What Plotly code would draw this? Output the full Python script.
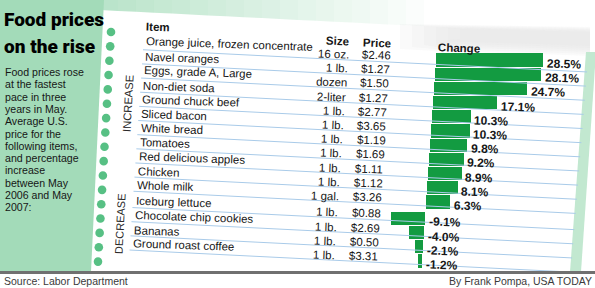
import plotly.graph_objects as go

# ---------------- data ----------------
items = ["Orange juice, frozen concentrate", "Navel oranges", "Eggs, grade A, Large",
         "Non-diet soda", "Ground chuck beef", "Sliced bacon", "White bread", "Tomatoes",
         "Red delicious apples", "Chicken", "Whole milk", "Iceburg lettuce",
         "Chocolate chip cookies", "Bananas", "Ground roast coffee"]
sizes = ["16 oz.", "1 lb.", "dozen", "2-liter", "1 lb.", "1 lb.", "1 lb.", "1 lb.",
         "1 lb.", "1 lb.", "1 gal.", "1 lb.", "1 lb.", "1 lb.", "1 lb."]
prices = ["$2.46", "$1.27", "$1.50", "$1.27", "$2.77", "$3.65", "$1.19", "$1.69",
          "$1.11", "$1.12", "$3.26", "$0.88", "$2.69", "$0.50", "$3.31"]
changes = [28.5, 28.1, 24.7, 17.1, 10.3, 10.3, 9.8, 9.2, 8.9, 8.1, 6.3,
           -9.1, -4.0, -2.1, -1.2]
body_lines = ["Food prices rose", "at the fastest", "pace in three", "years in May.",
              "Average U.S.", "price for the", "following items,", "and percentage",
              "increase", "between May", "2006 and May", "2007:"]

# ---------------- layout constants ----------------
W, H = 595, 288
ROW0, ROWH = 60.0, 14.2      # pixel centre of first row, row pitch
GAP = 0.15                   # extra gap before decrease group (rows)
PXU = 3.78                   # pixels per percentage point
ZERO0 = 436.0                # pixel of zero at first row
XMIN, XMAX = -15, 40
SHX = 0.95                   # leftward drift per row (tilted page)
SLOPE = 0.05                 # rule-line slope
GREEN = "#139b41"
PANEL = "#a3dbb9"
TXT = "#161616"
FONT = "Liberation Sans, Arial, sans-serif"
TITLE_FONT = "Roboto, Liberation Sans, sans-serif"

pos = [i + (GAP if c < 0 else 0) for i, c in enumerate(changes)]
bases = [-SHX * p / PXU for p in pos]


def xp(px):
    return px / W


def yp(py):
    return 1 - py / H


def rowpx(p):
    return ROW0 + ROWH * p


fig = go.Figure()
fig.add_trace(go.Bar(
    x=changes, y=pos, base=bases, orientation="h", width=0.93,
    marker=dict(color=GREEN, line=dict(width=0)), hoverinfo="skip", showlegend=False))

ann = []


def text(x, y, s, size=12, bold=False, anchor="left", color=TXT, angle=0,
         family=FONT, xref="paper", yref="paper", xshift=0, yshift=0, weight=None):
    f = dict(size=size, color=color, family=family)
    if weight is not None:
        f["weight"] = weight
    ann.append(dict(x=x, y=y, xref=xref, yref=yref, text=f"<b>{s}</b>" if bold else s,
                    showarrow=False, xanchor=anchor, yanchor="middle", textangle=angle,
                    font=f, xshift=xshift, yshift=yshift, borderpad=0))


# title + body
text(xp(3), yp(20), "Food prices", size=19, family=TITLE_FONT, color="#000", weight=900)
text(xp(3), yp(46), "on the rise", size=19, family=TITLE_FONT, color="#000", weight=900)
for k, line in enumerate(body_lines):
    text(xp(4), yp(72 + 12.3 * k), line, size=10.6)

# headers
text(xp(145), yp(27), "Item", size=11.5, bold=True, angle=2)
text(xp(350), yp(41), "Size", size=11.5, bold=True, anchor="right", angle=2)
text(xp(362), yp(43), "Price", size=11.5, bold=True, angle=2)
text(xp(437), yp(48), "Change", size=11.5, bold=True, angle=2)

# group labels
text(xp(128), yp(104), "INCREASE", size=11.2, angle=-87, anchor="center", color="#2a2a2a")
text(xp(120), yp(224), "DECREASE", size=11, angle=-87, anchor="center", color="#2a2a2a")

# rows
for it, sz, pr, ch, p, b in zip(items, sizes, prices, changes, pos, bases):
    text(xp(145 - SHX * p), yp(rowpx(p) - 16), it, size=11.5, angle=2)
    text(xp(350 - SHX * p), yp(rowpx(p) - 6), sz, size=11.5, anchor="right", angle=2)
    text(xp(361 - SHX * p), yp(rowpx(p) - 5), pr, size=11.5, angle=2)
    text(b + max(ch, 0), p, f"{ch:.1f}%", size=12, bold=True, xref="x", yref="y",
         xshift=2, yshift=-4, angle=2)

# footer
text(xp(3), yp(281), "Source: Labor Department", size=10.5, color="#3a3a3a")
text(xp(593), yp(281), "By Frank Pompa, USA TODAY", size=10.5, color="#3a3a3a", anchor="right")

shapes = []


def poly(pts, fill, layer="below", opacity=1):
    path = "M " + " L ".join(f"{xp(x):.5f},{yp(y):.5f}" for x, y in pts) + " Z"
    shapes.append(dict(type="path", path=path, xref="paper", yref="paper",
                       fillcolor=fill, line=dict(width=0), layer=layer, opacity=opacity))


# top green fade above the page
N = 18
for k in range(N):
    x0 = 100 + k * 18
    x1 = x0 + 18
    e0 = 10 + SLOPE * (x0 - 100)
    e1 = 10 + SLOPE * (x1 - 100)
    poly([(x0, 0), (x1, 0), (x1, e1), (x0, e0)], PANEL, opacity=0.75 * (1 - k / N))
# grey fold at top right (soft)
for k in range(6):
    poly([(400 + 12 * k, 24 + k), (590, 27 + k), (590, 56 - 2 * k), (540, 54 - 2 * k),
          (436, 51 - 2 * k), (400 + 12 * k, 49 - 2 * k)], "#e6e6e6", opacity=0.18)
# right edge strip of the pad
poly([(586, 52), (596, 52), (581, 272), (570, 272)], "#c2e8d0")
# left green panel
poly([(0, 0), (104, 0), (91, 272), (0, 272)], PANEL)
# binding dots
for k in range(17):
    cx = 111 - 13 * k / 16
    cy = 32 + 14.35 * k
    shapes.append(dict(type="circle", xref="paper", yref="paper",
                       x0=xp(cx - 4.3), x1=xp(cx + 4.3), y0=yp(cy + 4.3), y1=yp(cy - 4.3),
                       fillcolor="#57c084", line=dict(width=0), layer="below"))
# rule lines
for p in pos:
    y490 = rowpx(p) + 7.1
    xs = 143 - SHX * p
    xe = 588 - 0.08 * (y490 - 55)
    shapes.append(dict(type="line", xref="paper", yref="paper",
                       x0=xp(xs), y0=yp(y490 + SLOPE * (xs - 490)),
                       x1=xp(xe), y1=yp(y490 + SLOPE * (xe - 490)),
                       line=dict(color="#a9cbe9", width=1), layer="above"))
# bottom rule
shapes.append(dict(type="line", xref="paper", yref="paper", x0=0, x1=1,
                   y0=yp(272.5), y1=yp(272.5), line=dict(color="#707070", width=3),
                   layer="above"))

fig.update_layout(
    width=W, height=H, margin=dict(l=0, r=0, t=0, b=0),
    paper_bgcolor="white", plot_bgcolor="rgba(0,0,0,0)",
    xaxis=dict(domain=[xp(ZERO0 + XMIN * PXU), xp(ZERO0 + XMAX * PXU)],
               range=[XMIN, XMAX], visible=False, fixedrange=True),
    yaxis=dict(domain=[0, 1], range=[(H - ROW0) / ROWH, -ROW0 / ROWH],
               visible=False, fixedrange=True),
    bargap=0, annotations=ann, shapes=shapes, showlegend=False)

fig.write_html("out.html")
